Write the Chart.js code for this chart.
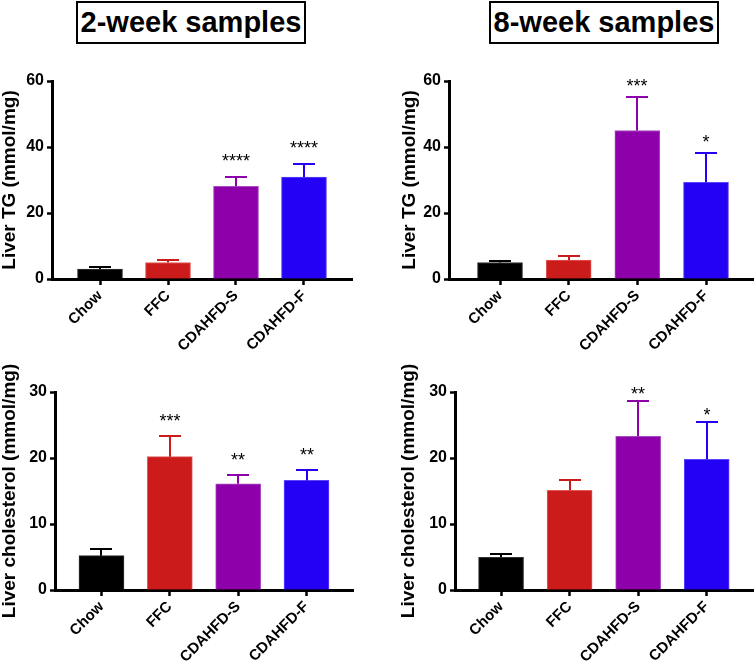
<!DOCTYPE html>
<html><head><meta charset="utf-8">
<script src="https://cdn.jsdelivr.net/npm/chart.js@4/dist/chart.umd.min.js"></script>
<style>
body{margin:0;background:#fff;width:754px;height:663px;position:relative;overflow:hidden;font-family:'Liberation Sans',Arial,sans-serif;}
.title{position:absolute;top:1px;height:43px;box-sizing:border-box;border:2px solid #000;font-weight:bold;font-size:29px;line-height:38px;text-align:center;color:#000;white-space:nowrap;}
canvas{position:absolute;}
</style></head><body>
<div class="title" style="left:76px;width:230px">2-week samples</div>
<div class="title" style="left:489px;width:230px">8-week samples</div>
<canvas id="c1" width="377" height="310" style="left:0px;top:50px"></canvas>
<canvas id="c2" width="377" height="310" style="left:377px;top:50px"></canvas>
<canvas id="c3" width="377" height="323" style="left:0px;top:340px"></canvas>
<canvas id="c4" width="377" height="323" style="left:377px;top:340px"></canvas>
<script>
// ---- data ----
const categories = ['Chow', 'FFC', 'CDAHFD-S', 'CDAHFD-F'];

const tg2wMean = [3.0, 5.0, 28.1, 30.9];
const tg2wSem  = [0.7, 0.7, 2.8, 4.0];
const tg2wStars = ['', '', '****', '****'];

const tg8wMean = [5.0, 5.7, 45.0, 29.3];
const tg8wSem  = [0.5, 1.3, 10.3, 8.9];
const tg8wStars = ['', '', '***', '*'];

const chol2wMean = [5.2, 20.2, 16.1, 16.6];
const chol2wSem  = [1.0, 3.1, 1.3, 1.6];
const chol2wStars = ['', '***', '**', '**'];

const chol8wMean = [4.95, 15.1, 23.3, 19.8];
const chol8wSem  = [0.45, 1.5, 5.4, 5.7];
const chol8wStars = ['', '', '**', '*'];

const tgTicks = [0, 20, 40, 60];
const cholTicks = [0, 10, 20, 30];

// ---- styles ----
const barColors = ['#000000', '#CC1B1B', '#8E00AA', '#2400F4'];
const barEdges  = ['#333333', '#E05A5A', '#A94CC4', '#5A46FF'];
const FONT = "'Liberation Sans', Arial, Helvetica, sans-serif";

const errBarPlugin = {
  id: 'errbars',
  afterDatasetsDraw(chart) {
    const p = chart.options.plugins.errbars;
    const {ctx} = chart;
    const x = chart.scales.x, y = chart.scales.y;
    ctx.save();
    p.mean.forEach((m, i) => {
      const px = Math.round(x.getPixelForValue(i));
      const yTop = Math.round(y.getPixelForValue(m + p.sem[i]));
      const yBar = y.getPixelForValue(m);
      ctx.strokeStyle = barColors[i];
      ctx.lineWidth = 2;
      ctx.beginPath();
      ctx.moveTo(px, yBar);
      ctx.lineTo(px, yTop);
      ctx.moveTo(px - 11, yTop);
      ctx.lineTo(px + 11, yTop);
      ctx.stroke();
      if (p.stars[i]) {
        ctx.fillStyle = '#000';
        ctx.font = '18px ' + FONT;
        ctx.textAlign = 'center';
        ctx.textBaseline = 'alphabetic';
        ctx.fillText(p.stars[i], px, yTop - p.starGap + 10);
      }
    });
    ctx.restore();
  }
};

function makePanel(id, mean, sem, stars, yTicks, yTitle, L) {
  const yMax = yTicks[yTicks.length - 1];
  const step = yTicks[1] - yTicks[0];
  new Chart(document.getElementById(id), {
    type: 'bar',
    data: {
      datasets: [{
        data: mean.map((v, i) => ({x: i, y: v})),
        backgroundColor: barColors,
        borderColor: barEdges,
        borderWidth: 1,
        barThickness: 45
      }]
    },
    options: {
      responsive: false,
      animation: false,
      devicePixelRatio: 1,
      layout: {padding: {left: L.padLeft, top: L.padTop, right: L.padRight, bottom: 0}},
      plugins: {
        legend: {display: false},
        tooltip: {enabled: false},
        errbars: {mean: mean, sem: sem, stars: stars, starGap: L.starGap}
      },
      scales: {
        x: {
          type: 'linear',
          offset: false,
          min: L.xMin,
          max: L.xMax,
          afterBuildTicks: (s) => { s.ticks = categories.map((c, i) => ({value: i})); },
          afterFit: (s) => { s.height = L.xHeight; },
          ticks: {
            autoSkip: false,
            minRotation: 45,
            maxRotation: 45,
            padding: 2,
            color: '#000',
            font: {family: FONT, size: 15, weight: 'bold'},
            callback: (v) => categories[Math.round(v)]
          },
          grid: {offset: false, drawOnChartArea: false, drawTicks: true, tickLength: 6, tickWidth: 2.5, tickColor: '#000'},
          border: {display: true, width: 3, color: '#000'}
        },
        y: {
          min: 0,
          max: yMax,
          afterFit: (s) => { s.width = L.yWidth; },
          ticks: {
            stepSize: step,
            padding: 3,
            color: '#000',
            font: {family: FONT, size: 16, weight: 'bold'}
          },
          title: {
            display: true,
            text: yTitle,
            color: '#000',
            padding: {top: 0, bottom: 0},
            font: {family: FONT, size: 19, weight: 'bold', lineHeight: 1}
          },
          grid: {drawOnChartArea: false, drawTicks: true, tickLength: 5, tickWidth: 2.5, tickColor: '#000'},
          border: {display: true, width: 3, color: '#000'}
        }
      }
    },
    plugins: [errBarPlugin]
  });
}

makePanel('c1', tg2wMean, tg2wSem, tg2wStars, tgTicks, 'Liver TG (mmol/mg)',
  {padLeft: 0, padTop: 31, padRight: 25, yWidth: 52, xHeight: 81, xMin: -0.706, xMax: 3.706, starGap: 20});
makePanel('c2', tg8wMean, tg8wSem, tg8wStars, tgTicks, 'Liver TG (mmol/mg)',
  {padLeft: 23, padTop: 31, padRight: 0, yWidth: 49, xHeight: 81, xMin: -0.743, xMax: 3.699, starGap: 15});
makePanel('c3', chol2wMean, chol2wSem, chol2wStars, cholTicks, 'Liver cholesterol (mmol/mg)',
  {padLeft: 0, padTop: 52, padRight: 24, yWidth: 55, xHeight: 73, xMin: -0.68, xMax: 3.68, starGap: 19});
makePanel('c4', chol8wMean, chol8wSem, chol8wStars, cholTicks, 'Liver cholesterol (mmol/mg)',
  {padLeft: 22, padTop: 52, padRight: 0, yWidth: 56, xHeight: 73, xMin: -0.672, xMax: 3.69, starGap: 11});
</script>
</body></html>
